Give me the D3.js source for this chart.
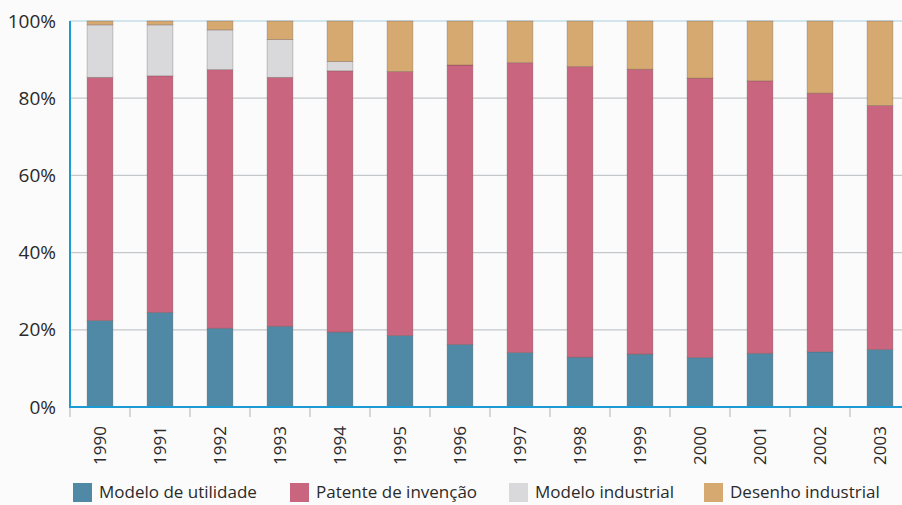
<!DOCTYPE html>
<html>
<head>
<meta charset="utf-8">
<script src="https://cdn.jsdelivr.net/npm/d3@7"></script>
<style>
  html, body { margin: 0; padding: 0; background: #fbfbfb; }
  svg { display: block; }
  text { font-family: "Open Sans", "Noto Sans", sans-serif; fill: #2a2a2a; }
</style>
</head>
<body>
<svg id="chart" width="902" height="505"></svg>
<script>
// Share of filings by type, Brazil 1990–2003 (percent of total)
const years = ["1990","1991","1992","1993","1994","1995","1996","1997","1998","1999","2000","2001","2002","2003"];
const modeloUtilidade  = [22.4, 24.5, 20.4, 20.9, 19.4, 18.5, 16.2, 14.1, 12.9, 13.7, 12.8, 13.9, 14.3, 14.9];
const patenteInvencao  = [63.0, 61.3, 67.0, 64.5, 67.7, 68.4, 72.4, 75.1, 75.3, 73.8, 72.4, 70.6, 67.0, 63.2];
const modeloIndustrial = [13.6, 13.2, 10.3,  9.8,  2.4,  0,    0,    0,    0,    0,    0,    0,    0,    0  ];
const desenhoIndustrial= [ 1.0,  1.0,  2.3,  4.8, 10.5, 13.1, 11.4, 10.8, 11.8, 12.5, 14.8, 15.5, 18.7, 21.9];
const yTicks = [0, 20, 40, 60, 80, 100];
const seriesNames = ["Modelo de utilidade", "Patente de invenção", "Modelo industrial", "Desenho industrial"];
const seriesColors = ["#4f89a5", "#c9657e", "#d9d9db", "#d5a96f"];

const seriesValues = [modeloUtilidade, patenteInvencao, modeloIndustrial, desenhoIndustrial];
const rows = years.map((yr, i) => {
  const r = { year: yr };
  seriesNames.forEach((n, k) => { r[n] = seriesValues[k][i]; });
  return r;
});

const svg = d3.select("#chart");
const plotLeft = 70, plotRight = 910, plotTop = 21, plotBottom = 407;

const x = d3.scaleBand().domain(years).range([plotLeft, plotRight]).paddingInner(0.57).paddingOuter(0.285);
const y = d3.scaleLinear().domain([0, 100]).range([plotBottom, plotTop]);

// horizontal grid
svg.append("g")
  .selectAll("line")
  .data(yTicks.filter(d => d > 0))
  .join("line")
  .attr("x1", plotLeft).attr("x2", 902)
  .attr("y1", d => y(d)).attr("y2", d => y(d))
  .attr("stroke", d => d === 100 ? "#a9cfe0" : "#c4c8cb")
  .attr("stroke-width", 1.2);

// stacked bars
const stack = d3.stack().keys(seriesNames)(rows);
svg.append("g")
  .selectAll("g")
  .data(stack)
  .join("g")
  .attr("fill", (d, i) => seriesColors[i])
  .selectAll("rect")
  .data(d => d.filter(s => s[1] - s[0] > 0))
  .join("rect")
  .attr("x", d => x(d.data.year))
  .attr("width", x.bandwidth())
  .attr("y", d => y(d[1]))
  .attr("height", d => y(d[0]) - y(d[1]))
  .attr("stroke", "rgba(90,70,70,0.35)")
  .attr("stroke-width", 0.8);

// y axis labels
const yAxis = d3.axisLeft(y).tickValues(yTicks).tickFormat(d => d + "%").tickSize(0).tickPadding(14);
const gy = svg.append("g").attr("transform", `translate(${plotLeft},0)`).call(yAxis);
gy.select(".domain").remove();
gy.selectAll("text").style("font-size", "19px").attr("fill", "#2a2a2a");

// x axis: boundary ticks below baseline, rotated year labels
const step = x.step();
const bounds = d3.range(years.length + 1).map(i => plotLeft + i * step);
svg.append("g")
  .selectAll("line")
  .data(bounds)
  .join("line")
  .attr("x1", d => d).attr("x2", d => d)
  .attr("y1", plotBottom).attr("y2", plotBottom + 10)
  .attr("stroke", "#b9bfc4").attr("stroke-width", 1.2);

svg.append("g")
  .selectAll("text")
  .data(years)
  .join("text")
  .attr("transform", d => `translate(${x(d) + x.bandwidth() / 2 + 6},${plotBottom + 19}) rotate(-90)`)
  .attr("text-anchor", "end")
  .style("font-size", "17px")
  .text(d => d);

// axis lines
svg.append("line")
  .attr("x1", plotLeft).attr("x2", plotLeft).attr("y1", plotTop).attr("y2", plotBottom)
  .attr("stroke", "#1b9ad4").attr("stroke-width", 2);
svg.append("line")
  .attr("x1", plotLeft - 1).attr("x2", 902).attr("y1", plotBottom).attr("y2", plotBottom)
  .attr("stroke", "#1b9ad4").attr("stroke-width", 2.2);

// legend
const legendX = [73, 290, 509, 704];
const legend = svg.append("g")
  .selectAll("g")
  .data(seriesNames)
  .join("g")
  .attr("transform", (d, i) => `translate(${legendX[i]},483)`);
legend.append("rect")
  .attr("width", 19).attr("height", 19)
  .attr("fill", (d, i) => seriesColors[i]);
legend.append("text")
  .attr("x", 26).attr("y", 15)
  .style("font-size", "17px")
  .text(d => d);
</script>
</body>
</html>
